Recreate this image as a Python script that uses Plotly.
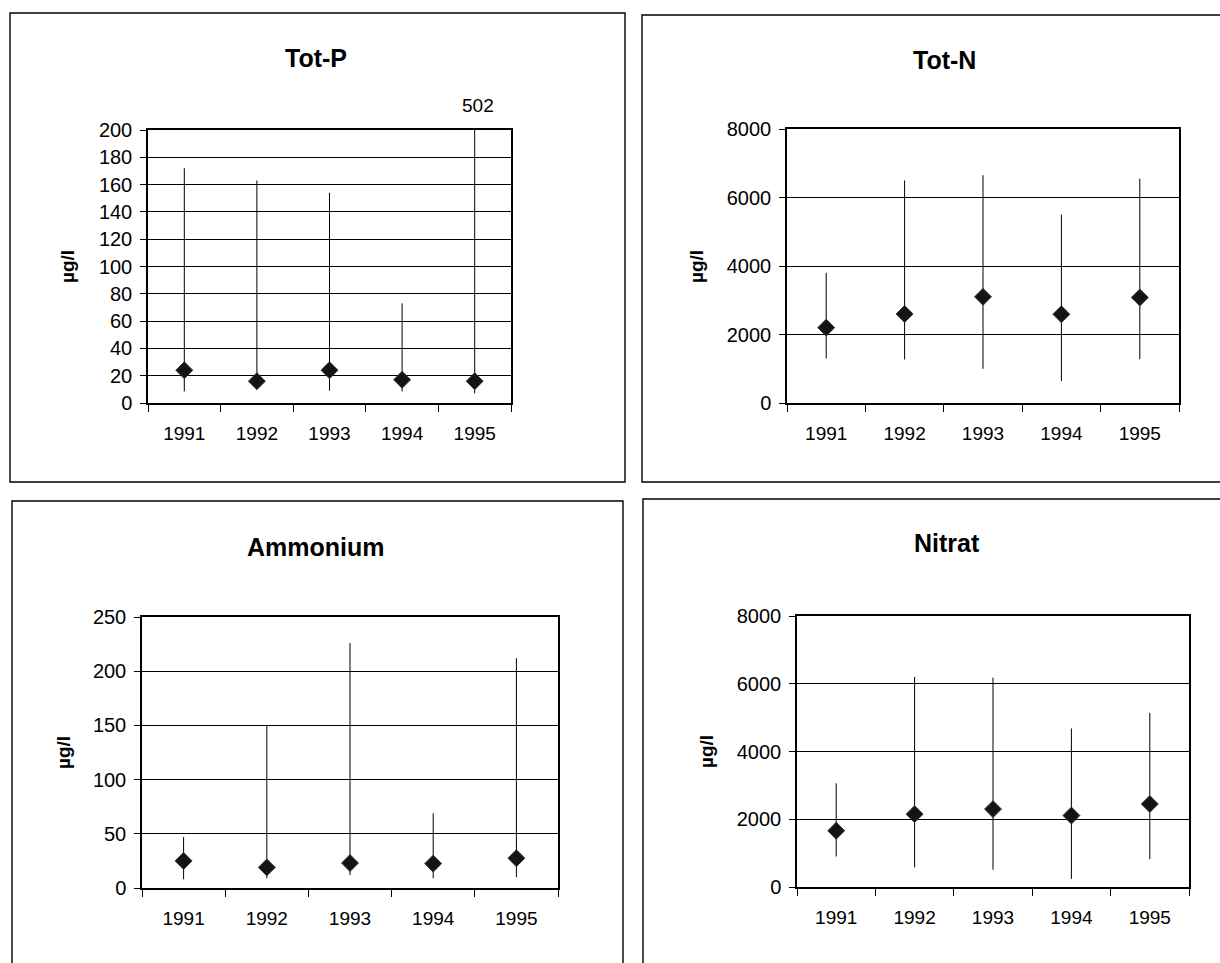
import plotly.graph_objects as go

W, H = 1220, 963

years = ["1991", "1992", "1993", "1994", "1995"]

totp_mean = [24, 16, 24, 17, 16]
totp_max = [172, 163, 154, 73, 502]
totp_min = [8.5, 10, 9, 8.5, 7]

totn_mean = [2200, 2600, 3100, 2590, 3080]
totn_max = [3800, 6500, 6650, 5500, 6550]
totn_min = [1300, 1270, 1000, 640, 1280]

amm_mean = [25, 19, 23, 22.5, 27.5]
amm_max = [47, 150, 226, 69, 212]
amm_min = [8, 9, 12, 9, 10]

nit_mean = [1660, 2150, 2300, 2110, 2450]
nit_max = [3060, 6200, 6180, 4680, 5140]
nit_min = [900, 580, 510, 240, 820]

titles = ["Tot-P", "Tot-N", "Ammonium", "Nitrat"]
y_ranges = [[0, 200], [0, 8000], [0, 250], [0, 8000]]
y_dticks = [20, 2000, 50, 2000]
ylabel = "µg/l"

FONT = "Liberation Sans, Arial, sans-serif"

# pixel layouts (left, right, top, bottom) of plot areas
plot_px = [(148, 511, 130, 403), (787, 1179, 129, 403),
           (142, 558, 617, 888), (797, 1189, 616, 887)]
title_px = [(316, 58), (944, 60), (316, 547), (947, 543)]
ylab_px = [(68, 267), (697, 267), (63, 753), (706, 752)]
frame_px = [(10, 625, 13, 482), (642, 1222, 15, 482),
            (12, 623, 501, 966), (643, 1222, 499, 966)]

series = [(totp_mean, totp_max, totp_min), (totn_mean, totn_max, totn_min),
          (amm_mean, amm_max, amm_min), (nit_mean, nit_max, nit_min)]


def px(x):
    return x / W


def py(y):
    return 1 - y / H


fig = go.Figure()
layout = dict(width=W, height=H, margin=dict(l=0, r=0, t=0, b=0, autoexpand=False),
              paper_bgcolor="white", plot_bgcolor="white", showlegend=False,
              font=dict(family=FONT, color="black"))
shapes = []
annotations = []

for i in range(4):
    mean, mx, mn = series[i]
    xa = "x" if i == 0 else f"x{i+1}"
    ya = "y" if i == 0 else f"y{i+1}"
    fig.add_trace(go.Scatter(
        x=years, y=mean, mode="markers", xaxis=xa, yaxis=ya,
        marker=dict(symbol="diamond", size=13, color="#141414",
                    line=dict(color="#333", width=1)),
        error_y=dict(type="data", symmetric=False,
                     array=[a - b for a, b in zip(mx, mean)],
                     arrayminus=[b - c for b, c in zip(mean, mn)],
                     color="black", thickness=1, width=0),
        cliponaxis=True,
    ))
    l, r, t, b = plot_px[i]
    kx = "xaxis" if i == 0 else f"xaxis{i+1}"
    ky = "yaxis" if i == 0 else f"yaxis{i+1}"
    layout[kx] = dict(domain=[px(l), px(r)], anchor=ya, type="category",
                      categoryorder="array", categoryarray=years,
                      range=[-0.5, len(years) - 0.5], autorange=False,
                      tickson="boundaries", ticks="outside", ticklen=7,
                      ticklabelstandoff=12,
                      tickcolor="black", showgrid=False, showline=True,
                      linecolor="black", linewidth=1.5, mirror=True,
                      tickangle=0, automargin=False,
                      tickfont=dict(size=19, family=FONT), zeroline=False,
                      fixedrange=True)
    layout[ky] = dict(domain=[py(b), py(t)], anchor=xa, range=y_ranges[i],
                      autorange=False,
                      dtick=y_dticks[i], tick0=0, ticks="outside", ticklen=6,
                      ticklabelstandoff=4,
                      tickcolor="black", showgrid=True, gridcolor="black",
                      gridwidth=1, showline=True, linecolor="black",
                      linewidth=1.5, mirror=True, zeroline=False,
                      automargin=False,
                      tickfont=dict(size=20, family=FONT), fixedrange=True)
    tx, ty = title_px[i]
    annotations.append(dict(text=f"<b>{titles[i]}</b>", x=px(tx), y=py(ty),
                            xref="paper", yref="paper", showarrow=False,
                            font=dict(size=25, family=FONT),
                            xanchor="center", yanchor="middle"))
    lx, ly = ylab_px[i]
    annotations.append(dict(text=f"<b>{ylabel}</b>", x=px(lx), y=py(ly),
                            xref="paper", yref="paper", showarrow=False,
                            textangle=-90, font=dict(size=19, family=FONT),
                            xanchor="center", yanchor="middle"))
    fl, fr, ft, fb = frame_px[i]
    shapes.append(dict(type="rect", xref="paper", yref="paper",
                       x0=px(fl), x1=px(fr), y0=py(fb), y1=py(ft),
                       line=dict(color="black", width=1.4), layer="below"))

# value label for the clipped Tot-P maximum
annotations.append(dict(text=str(totp_max[4]), x=len(years) - 1,
                        y=y_ranges[0][1], xref="x", yref="y", showarrow=False,
                        yanchor="bottom", yshift=12, xshift=3,
                        font=dict(size=19, family=FONT)))

layout["shapes"] = shapes
layout["annotations"] = annotations
fig.update_layout(**layout)
fig.write_html("out.html", config={"displayModeBar": False},
               post_script="document.body.style.margin='0';"
                           "document.body.style.overflow='hidden';")
